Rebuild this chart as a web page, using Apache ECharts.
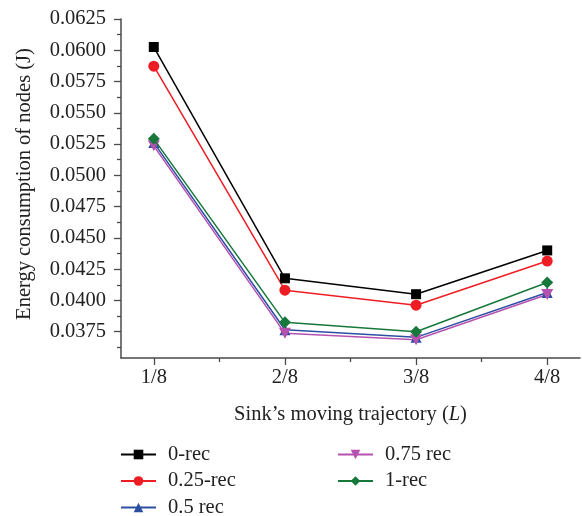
<!DOCTYPE html>
<html><head><meta charset="utf-8">
<script src="https://cdn.jsdelivr.net/npm/echarts@6/dist/echarts.min.js"></script>
<style>html,body{margin:0;padding:0;background:#fff}#c{width:582px;height:516px}</style>
</head><body><div id="c"></div>
<script>
var categories = ['1/8', '2/8', '3/8', '4/8'];
var seriesNames = ['0-rec', '0.25-rec', '0.5 rec', '0.75 rec', '1-rec'];
var rec0 = [0.06026, 0.04177, 0.04050, 0.04400];
var rec025 = [0.05873, 0.04082, 0.03962, 0.04315];
var rec05 = [0.05262, 0.03766, 0.03705, 0.04064];
var rec075 = [0.05236, 0.03737, 0.03686, 0.04048];
var rec1 = [0.05292, 0.03825, 0.03750, 0.04143];
var yMajorTicks = [0.0375, 0.0400, 0.0425, 0.0450, 0.0475, 0.0500, 0.0525, 0.0550, 0.0575, 0.0600, 0.0625];

var FONT = 'Liberation Serif';
var FS = 20.5;
var AX = '#4a4a4a';
var TXT = '#222';
var colors = ['#000000', '#ee1d24', '#2c4ea3', '#b552b0', '#16783b'];
var symbols = ['rect', 'circle', 'triangle', 'path://M0,0 L10,0 L5,9 Z', 'diamond'];
var symSizes = [10, 11, 11, [12, 11], 12];
var allVals = [rec0, rec025, rec05, rec075, rec1];

var yMinor = [];
for (var i = 0; i < yMajorTicks.length; i++) yMinor.push(+(yMajorTicks[i] - 0.00125).toFixed(5));
var xMajor = categories.map(function (c, i) { return i + 1; });
var xMinor = categories.slice(1).map(function (c, i) { return i + 1.5; });

var series = seriesNames.map(function (n, k) {
  return {
    name: n, type: 'line',
    data: categories.map(function (c, i) { return [i + 1, allVals[k][i]]; }),
    symbol: symbols[k], symbolSize: symSizes[k],
    lineStyle: { color: colors[k], width: 1.5 },
    itemStyle: { color: colors[k] },
    z: k === 4 ? 3 : 2
  };
});

var legendBase = {
  orient: 'vertical', top: 444, padding: 0, height: 120, width: 200,
  itemWidth: 35, itemHeight: 12, itemGap: 5.5,
  textStyle: { fontFamily: FONT, fontSize: FS, color: TXT, lineHeight: 20, padding: [0, 0, 0, 7] }
};

var chart = echarts.init(document.getElementById('c'));
chart.setOption({
  animation: false,
  grid: { left: 121, right: 2, top: 19, bottom: 158 },
  xAxis: [{
    type: 'value', min: 0.75, max: 4.25,
    name: '{a|Sink\u2019s moving trajectory (}{i|L}{a|)}', nameLocation: 'middle', nameGap: 46,
    nameTextStyle: { fontFamily: FONT, fontSize: FS, color: TXT,
      rich: { a: { fontFamily: FONT, fontSize: FS, color: TXT },
              i: { fontFamily: FONT, fontSize: FS, color: TXT, fontStyle: 'italic' } } },
    axisLine: { lineStyle: { color: AX, width: 1.5 } },
    axisTick: { show: true, customValues: xMajor, length: 7, lineStyle: { color: AX, width: 1.3 } },
    axisLabel: { customValues: xMajor, margin: 9, fontFamily: FONT, fontSize: FS, color: TXT,
      formatter: function (v) { return categories[Math.round(v) - 1]; } },
    splitLine: { show: false }
  }, {
    type: 'value', min: 0.75, max: 4.25, position: 'bottom',
    axisLine: { show: false },
    axisTick: { show: true, customValues: xMinor, length: 4, lineStyle: { color: AX, width: 1.3 } },
    axisLabel: { show: false }, splitLine: { show: false }
  }],
  yAxis: [{
    type: 'value', min: 0.0354, max: 0.0625,
    name: 'Energy consumption of nodes (J)', nameLocation: 'middle', nameGap: 86,
    nameTextStyle: { fontFamily: FONT, fontSize: FS, color: TXT, padding: [0, 0, 0, 9] },
    axisLine: { show: true, lineStyle: { color: AX, width: 1.5 } },
    axisTick: { show: true, customValues: yMajorTicks, length: 7, lineStyle: { color: AX, width: 1.3 } },
    axisLabel: { customValues: yMajorTicks, margin: 15, fontFamily: FONT, fontSize: FS, color: TXT,
      formatter: function (v) { return v.toFixed(4); } },
    splitLine: { show: false }
  }, {
    type: 'value', min: 0.0354, max: 0.0625, position: 'left',
    axisLine: { show: false },
    axisTick: { show: true, customValues: yMinor, length: 4, lineStyle: { color: AX, width: 1.3 } },
    axisLabel: { show: false }, splitLine: { show: false }
  }],
  legend: [
    Object.assign({}, legendBase, { left: 120, data: seriesNames.slice(0, 3) }),
    Object.assign({}, legendBase, { left: 337, data: seriesNames.slice(3) })
  ],
  series: series
});
</script></body></html>
